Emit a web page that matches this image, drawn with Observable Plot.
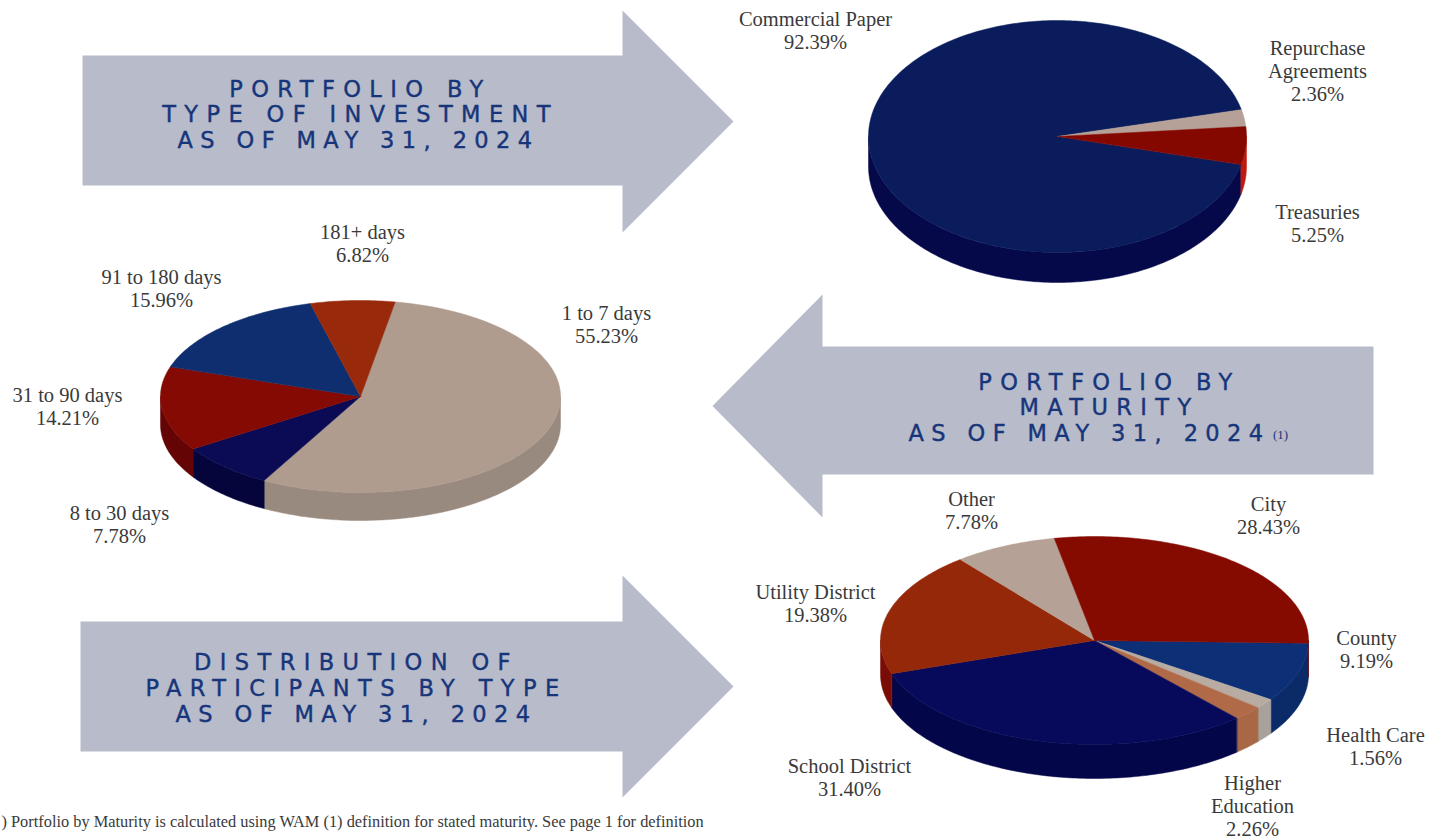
<!DOCTYPE html>
<html>
<head>
<meta charset="utf-8">
<script src="https://cdn.jsdelivr.net/npm/d3@7"></script>
<script src="https://cdn.jsdelivr.net/npm/@observablehq/plot@0.6"></script>
<style>
html,body{margin:0;padding:0;background:#fff;}
svg{display:block;}
</style>
</head>
<body>
<div id="chart"></div>
<script>
// ---- data ----
const investmentNames = ["Commercial Paper", "Repurchase\nAgreements", "Treasuries"];
const investmentValues = [92.39, 2.36, 5.25];
const maturityNames = ["1 to 7 days", "8 to 30 days", "31 to 90 days", "91 to 180 days", "181+ days"];
const maturityValues = [55.23, 7.78, 14.21, 15.96, 6.82];
const participantNames = ["County", "Health Care", "Higher\nEducation", "School District", "Utility District", "Other", "City"];
const participantValues = [9.19, 1.56, 2.26, 31.40, 19.38, 7.78, 28.43];
const bannerLines = [
  ["PORTFOLIO BY", "TYPE OF INVESTMENT", "AS OF MAY 31, 2024"],
  ["PORTFOLIO BY", "MATURITY", "AS OF MAY 31, 2024"],
  ["DISTRIBUTION OF", "PARTICIPANTS BY TYPE", "AS OF MAY 31, 2024"]
];
const footnote = ") Portfolio by Maturity is calculated using WAM (1) definition for stated maturity. See page 1 for definition";

// ---- layout and style ----
const deg = Math.PI / 180;
const pies = [
  {names: investmentNames, values: investmentValues, cx: 1057, cy: 136, rx: 189, ry: 116, depth: 30, start: 104,
   top: ["#0a1c5c", "#b5a197", "#850800"], side: ["#05094a", "#a08e84", "#c01a10"],
   at: [[815, 30], [1317, 70], [1317, 223]]},
  {names: maturityNames, values: maturityValues, cx: 360, cy: 396, rx: 200, ry: 96, depth: 28, start: 10,
   top: ["#b09b8f", "#0a0a55", "#850a03", "#0f2e70", "#98290a"], side: ["#998a80", "#05053c", "#650404", "#0a2050", "#7a1f08"],
   at: [[606, 324], [119, 524], [67, 406], [161, 288], [362, 243]]},
  {names: participantNames, values: participantValues, cx: 1094, cy: 640, rx: 214, ry: 104, depth: 34, start: 91.5,
   top: ["#0c2f76", "#b7aba2", "#b06a48", "#07095a", "#96280a", "#b5a195", "#850a00"],
   side: ["#0a2a68", "#a9a29c", "#a86846", "#04064a", "#7a0c06", "#9c8a80", "#6b0500"],
   at: [[1366, 649], [1375, 746], [1252, 805], [849, 777], [815, 603], [971, 510], [1268, 515]]}
];
const arrows = [
  {dir: 1, x0: 82, neck: 622, tip: 733, y0: 55, y1: 185, h0: 10, h1: 232},
  {dir: -1, x0: 1373, neck: 822, tip: 712, y0: 346, y1: 474, h0: 294, h1: 517},
  {dir: 1, x0: 80, neck: 622, tip: 733, y0: 621, y1: 751, h0: 575, h1: 797}
];
const bannerAt = [
  [[360, 89], [360, 114], [358, 140]],
  [[1109, 382], [1109, 407], [1089, 433]],
  [[356, 662], [356, 688], [356, 714]]
];
const arrowColor = "#b8bbc9";

// ---- geometry built from the values ----
const arcPts = (p, a, b, dy = 0) => {
  const n = Math.max(2, Math.ceil((b - a) / (1 * deg)));
  return d3.range(n + 1).map(i => {
    const t = a + (b - a) * i / n;
    return {x: p.cx + p.rx * Math.sin(t), y: p.cy - p.ry * Math.cos(t) + dy};
  });
};
const sideRows = [], topRows = [], labelRows = [];
pies.forEach((p, pi) => {
  const arcs = d3.pie().sort(null).value(d => d)
    .startAngle(p.start * deg).endAngle(p.start * deg + 2 * Math.PI)(p.values);
  arcs.forEach((s, i) => {
    const id = `${pi}-${i}`;
    [-1, 0, 1].forEach(k => {
      const lo = Math.max(s.startAngle, Math.PI / 2 + 2 * Math.PI * k);
      const hi = Math.min(s.endAngle, 3 * Math.PI / 2 + 2 * Math.PI * k);
      if (lo < hi) {
        const poly = [...arcPts(p, lo, hi), ...arcPts(p, lo, hi, p.depth).reverse()];
        poly.forEach(q => sideRows.push({...q, id: `${id}-${k}`, c: p.side[i]}));
      }
    });
    const poly = [{x: p.cx, y: p.cy}, ...arcPts(p, s.startAngle, s.endAngle), {x: p.cx, y: p.cy}];
    poly.forEach(q => topRows.push({...q, id, c: p.top[i]}));
    labelRows.push({x: p.at[i][0], y: p.at[i][1], text: `${p.names[i]}\n${p.values[i].toFixed(2)}%`});
  });
});
const arrowRows = arrows.flatMap((a, i) => [
  [a.x0, a.y0], [a.neck, a.y0], [a.neck, a.h0], [a.tip, (a.h0 + a.h1) / 2],
  [a.neck, a.h1], [a.neck, a.y1], [a.x0, a.y1]
].map(([x, y]) => ({x, y, id: i})));
const bannerRows = bannerLines.flatMap((lines, i) =>
  lines.map((text, j) => ({text, x: bannerAt[i][j][0], y: bannerAt[i][j][1]})));

// ---- chart ----
const polyOpts = () => ({x: "x", y: "y", z: "id", fill: "c", stroke: "c", strokeWidth: 0.5, curve: "linear-closed"});
const chart = Plot.plot({
  width: 1445, height: 840,
  marginTop: 0, marginRight: 0, marginBottom: 0, marginLeft: 0,
  x: {domain: [0, 1445], range: [0, 1445], axis: null},
  y: {domain: [0, 840], range: [0, 840], axis: null},
  color: {type: "identity"},
  style: {background: "#fff"},
  marks: [
    Plot.line(arrowRows, {x: "x", y: "y", z: "id", fill: arrowColor, stroke: "none", curve: "linear-closed"}),
    Plot.line(sideRows, polyOpts()),
    Plot.line(topRows, polyOpts()),
    Plot.text(bannerRows, {x: "x", y: "y", text: "text", fill: "#17357a", stroke: "#17357a", strokeWidth: 0.4, fontFamily: "DejaVu Sans", fontSize: 22.5, lineAnchor: "middle"}),
    Plot.text(["(1)"], {x: [1280], y: [434], text: d => d, fill: "#17357a", fontFamily: "Liberation Serif", fontSize: 13, lineAnchor: "middle"}),
    Plot.text(labelRows, {x: "x", y: "y", text: "text", fill: "#3a3a3a", fontFamily: "Liberation Serif", fontSize: 20.5, lineHeight: 1.122, lineAnchor: "middle", textAnchor: "middle"}),
    Plot.text([footnote], {x: [1], y: [821], text: d => d, fill: "#3a3a3a", fontFamily: "Liberation Serif", fontSize: 16.35, textAnchor: "start", lineAnchor: "middle"})
  ]
});
const bannerGroup = d3.select(chart).selectAll('g[font-family="DejaVu Sans"]').style("letter-spacing", "8.4px");
bannerGroup.selectAll("text").filter(function () { return this.textContent.startsWith("AS OF"); }).style("letter-spacing", "7.4px");
document.getElementById("chart").appendChild(chart);
</script>
</body>
</html>
